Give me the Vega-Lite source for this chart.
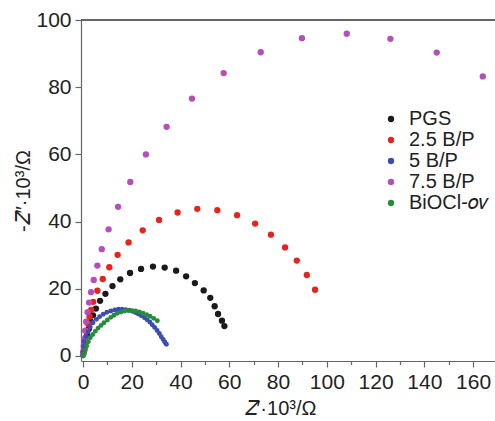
{
  "$schema": "https://vega.github.io/schema/vega-lite/v6.json",
  "autosize": {"type": "none"},
  "width": 414,
  "height": 341,
  "padding": {"left": 81, "top": 20, "right": 0, "bottom": 60},
  "background": "white",
  "config": {
    "view": {"stroke": null},
    "font": "Liberation Sans",
    "axis": {
      "domainColor": "#666666",
      "tickColor": "#666666",
      "labelColor": "#222222",
      "titleColor": "#222222",
      "labelFont": "Liberation Sans",
      "titleFont": "Liberation Sans",
      "labelFontSize": 21,
      "titleFontSize": 20,
      "titleFontWeight": "normal",
      "grid": false,
      "domainWidth": 1.2,
      "tickWidth": 1.2
    },
    "legend": {
      "labelFont": "Liberation Sans",
      "labelFontSize": 20,
      "labelColor": "#222222",
      "symbolType": "circle",
      "symbolSize": 40,
      "symbolStrokeWidth": 0,
      "rowPadding": 1,
      "labelOffset": 8,
      "padding": 0,
      "labelLimit": 200
    }
  },
  "data": {
    "values": [
      {"s": "PGS", "x": 0.2, "y": 1.0}, {"s": "PGS", "x": 0.6, "y": 2.5}, {"s": "PGS", "x": 1.1, "y": 4.2}, {"s": "PGS", "x": 1.7, "y": 6.1}, {"s": "PGS", "x": 2.4, "y": 8.1}, {"s": "PGS", "x": 3.2, "y": 10.2}, {"s": "PGS", "x": 4.1, "y": 12.1}, {"s": "PGS", "x": 5.3, "y": 14.1}, {"s": "PGS", "x": 7.0, "y": 16.4}, {"s": "PGS", "x": 9.2, "y": 18.5}, {"s": "PGS", "x": 12.1, "y": 20.8}, {"s": "PGS", "x": 15.3, "y": 22.8}, {"s": "PGS", "x": 19.3, "y": 24.7}, {"s": "PGS", "x": 23.8, "y": 25.9}, {"s": "PGS", "x": 28.7, "y": 26.6}, {"s": "PGS", "x": 33.5, "y": 26.3}, {"s": "PGS", "x": 38.2, "y": 25.4}, {"s": "PGS", "x": 42.3, "y": 23.7}, {"s": "PGS", "x": 45.9, "y": 21.7}, {"s": "PGS", "x": 49.5, "y": 19.5}, {"s": "PGS", "x": 52.2, "y": 17.3}, {"s": "PGS", "x": 54.0, "y": 14.8}, {"s": "PGS", "x": 55.4, "y": 12.5}, {"s": "PGS", "x": 57.0, "y": 10.5}, {"s": "PGS", "x": 58.0, "y": 8.9},
      {"s": "2.5 B/P", "x": 0.1, "y": 0.8}, {"s": "2.5 B/P", "x": 0.4, "y": 2.0}, {"s": "2.5 B/P", "x": 0.8, "y": 3.6}, {"s": "2.5 B/P", "x": 1.2, "y": 5.5}, {"s": "2.5 B/P", "x": 1.6, "y": 7.5}, {"s": "2.5 B/P", "x": 2.1, "y": 9.6}, {"s": "2.5 B/P", "x": 2.7, "y": 11.7}, {"s": "2.5 B/P", "x": 3.3, "y": 13.7}, {"s": "2.5 B/P", "x": 4.2, "y": 16.1}, {"s": "2.5 B/P", "x": 5.9, "y": 19.4}, {"s": "2.5 B/P", "x": 8.1, "y": 22.9}, {"s": "2.5 B/P", "x": 10.8, "y": 26.4}, {"s": "2.5 B/P", "x": 14.2, "y": 30.1}, {"s": "2.5 B/P", "x": 18.7, "y": 33.8}, {"s": "2.5 B/P", "x": 24.5, "y": 37.4}, {"s": "2.5 B/P", "x": 31.2, "y": 40.5}, {"s": "2.5 B/P", "x": 38.8, "y": 42.7}, {"s": "2.5 B/P", "x": 46.9, "y": 43.8}, {"s": "2.5 B/P", "x": 55.1, "y": 43.4}, {"s": "2.5 B/P", "x": 63.2, "y": 41.9}, {"s": "2.5 B/P", "x": 70.6, "y": 39.4}, {"s": "2.5 B/P", "x": 77.1, "y": 36.1}, {"s": "2.5 B/P", "x": 82.9, "y": 32.3}, {"s": "2.5 B/P", "x": 87.7, "y": 28.4}, {"s": "2.5 B/P", "x": 91.8, "y": 24.1}, {"s": "2.5 B/P", "x": 95.2, "y": 19.7},
      {"s": "7.5 B/P", "x": 0.0, "y": 0.3}, {"s": "7.5 B/P", "x": 0.1, "y": 1.2}, {"s": "7.5 B/P", "x": 0.3, "y": 3.0}, {"s": "7.5 B/P", "x": 0.6, "y": 5.0}, {"s": "7.5 B/P", "x": 0.9, "y": 7.5}, {"s": "7.5 B/P", "x": 1.3, "y": 10.2}, {"s": "7.5 B/P", "x": 1.9, "y": 13.0}, {"s": "7.5 B/P", "x": 2.5, "y": 15.9}, {"s": "7.5 B/P", "x": 3.3, "y": 19.0}, {"s": "7.5 B/P", "x": 4.4, "y": 22.6}, {"s": "7.5 B/P", "x": 5.9, "y": 26.9}, {"s": "7.5 B/P", "x": 7.7, "y": 31.8}, {"s": "7.5 B/P", "x": 10.5, "y": 37.7}, {"s": "7.5 B/P", "x": 14.4, "y": 44.4}, {"s": "7.5 B/P", "x": 19.4, "y": 51.8}, {"s": "7.5 B/P", "x": 25.8, "y": 60.0}, {"s": "7.5 B/P", "x": 34.3, "y": 68.2}, {"s": "7.5 B/P", "x": 44.7, "y": 76.6}, {"s": "7.5 B/P", "x": 57.7, "y": 84.2}, {"s": "7.5 B/P", "x": 72.9, "y": 90.4}, {"s": "7.5 B/P", "x": 89.8, "y": 94.6}, {"s": "7.5 B/P", "x": 108.2, "y": 95.9}, {"s": "7.5 B/P", "x": 126.1, "y": 94.4}, {"s": "7.5 B/P", "x": 145.1, "y": 90.3}, {"s": "7.5 B/P", "x": 164.0, "y": 83.2},
      {"s": "5 B/P", "x": 0.0, "y": 0.2}, {"s": "5 B/P", "x": 0.1, "y": 1.3}, {"s": "5 B/P", "x": 0.2, "y": 2.8}, {"s": "5 B/P", "x": 0.5, "y": 4.3}, {"s": "5 B/P", "x": 1.2, "y": 5.8}, {"s": "5 B/P", "x": 2.1, "y": 7.2}, {"s": "5 B/P", "x": 3.0, "y": 8.6}, {"s": "5 B/P", "x": 4.1, "y": 9.9}, {"s": "5 B/P", "x": 5.5, "y": 10.9}, {"s": "5 B/P", "x": 6.8, "y": 11.7}, {"s": "5 B/P", "x": 8.3, "y": 12.4}, {"s": "5 B/P", "x": 9.8, "y": 13.0}, {"s": "5 B/P", "x": 11.4, "y": 13.4}, {"s": "5 B/P", "x": 13.0, "y": 13.7}, {"s": "5 B/P", "x": 14.5, "y": 13.9}, {"s": "5 B/P", "x": 16.0, "y": 13.9}, {"s": "5 B/P", "x": 17.5, "y": 13.8}, {"s": "5 B/P", "x": 18.9, "y": 13.6}, {"s": "5 B/P", "x": 20.2, "y": 13.3}, {"s": "5 B/P", "x": 21.5, "y": 12.9}, {"s": "5 B/P", "x": 22.7, "y": 12.5}, {"s": "5 B/P", "x": 23.9, "y": 12.0}, {"s": "5 B/P", "x": 25.2, "y": 11.4}, {"s": "5 B/P", "x": 26.3, "y": 10.8}, {"s": "5 B/P", "x": 27.4, "y": 10.1}, {"s": "5 B/P", "x": 28.4, "y": 9.3}, {"s": "5 B/P", "x": 29.4, "y": 8.5}, {"s": "5 B/P", "x": 30.4, "y": 7.6}, {"s": "5 B/P", "x": 31.3, "y": 6.7}, {"s": "5 B/P", "x": 32.1, "y": 5.7}, {"s": "5 B/P", "x": 32.9, "y": 4.9}, {"s": "5 B/P", "x": 33.6, "y": 4.1}, {"s": "5 B/P", "x": 34.2, "y": 3.5},
      {"s": "BiOCl-𝑜𝑣", "x": 0.0, "y": 0.0}, {"s": "BiOCl-𝑜𝑣", "x": 0.4, "y": 0.5}, {"s": "BiOCl-𝑜𝑣", "x": 1.0, "y": 1.8}, {"s": "BiOCl-𝑜𝑣", "x": 1.5, "y": 3.0}, {"s": "BiOCl-𝑜𝑣", "x": 2.2, "y": 4.2}, {"s": "BiOCl-𝑜𝑣", "x": 3.0, "y": 5.4}, {"s": "BiOCl-𝑜𝑣", "x": 4.0, "y": 6.4}, {"s": "BiOCl-𝑜𝑣", "x": 5.1, "y": 7.4}, {"s": "BiOCl-𝑜𝑣", "x": 6.2, "y": 8.3}, {"s": "BiOCl-𝑜𝑣", "x": 7.4, "y": 9.1}, {"s": "BiOCl-𝑜𝑣", "x": 8.6, "y": 9.9}, {"s": "BiOCl-𝑜𝑣", "x": 10.0, "y": 10.7}, {"s": "BiOCl-𝑜𝑣", "x": 11.4, "y": 11.5}, {"s": "BiOCl-𝑜𝑣", "x": 12.7, "y": 12.1}, {"s": "BiOCl-𝑜𝑣", "x": 14.1, "y": 12.7}, {"s": "BiOCl-𝑜𝑣", "x": 15.6, "y": 13.1}, {"s": "BiOCl-𝑜𝑣", "x": 17.1, "y": 13.4}, {"s": "BiOCl-𝑜𝑣", "x": 18.6, "y": 13.5}, {"s": "BiOCl-𝑜𝑣", "x": 20.1, "y": 13.5}, {"s": "BiOCl-𝑜𝑣", "x": 21.6, "y": 13.4}, {"s": "BiOCl-𝑜𝑣", "x": 23.1, "y": 13.1}, {"s": "BiOCl-𝑜𝑣", "x": 24.6, "y": 12.7}, {"s": "BiOCl-𝑜𝑣", "x": 26.1, "y": 12.3}, {"s": "BiOCl-𝑜𝑣", "x": 27.5, "y": 11.8}, {"s": "BiOCl-𝑜𝑣", "x": 29.0, "y": 11.2}, {"s": "BiOCl-𝑜𝑣", "x": 30.5, "y": 10.5}
    ]
  },
  "layer": [
    {
      "mark": {"type": "rule", "color": "#666666", "strokeWidth": 1.2},
      "encoding": {"y": {"datum": 100, "scale": {"domain": [-1.5, 100]}}}
    },
    {
      "mark": {"type": "point", "filled": true, "opacity": 1, "strokeWidth": 0},
      "encoding": {
        "x": {
          "field": "x", "type": "quantitative",
          "scale": {"domain": [-0.82, 169], "nice": false, "zero": false},
          "axis": {
            "title": "𝑍′·10³/Ω",
            "titleX": 199,
            "values": [0, 10, 20, 30, 40, 50, 60, 70, 80, 90, 100, 110, 120, 130, 140, 150, 160],
            "labelExpr": "datum.value % 20 === 0 ? datum.label : ''",
            "tickSize": {"condition": {"test": "datum.value % 20 === 0", "value": 6}, "value": 3.5},
            "labelPadding": 4,
            "titlePadding": 6,
            "labelFlush": false,
            "labelOverlap": false
          }
        },
        "y": {
          "field": "y", "type": "quantitative",
          "scale": {"domain": [-1.5, 100], "nice": false, "zero": false},
          "axis": {
            "title": "-𝑍″·10³/Ω",
            "values": [0, 10, 20, 30, 40, 50, 60, 70, 80, 90, 100],
            "labelExpr": "datum.value % 20 === 0 ? datum.label : ''",
            "tickSize": {"condition": {"test": "datum.value % 20 === 0", "value": 6}, "value": 3.5},
            "labelPadding": 4,
            "titlePadding": 2,
            "labelFlush": false,
            "labelOverlap": false
          }
        },
        "color": {
          "field": "s", "type": "nominal",
          "scale": {
            "domain": ["PGS", "2.5 B/P", "5 B/P", "7.5 B/P", "BiOCl-𝑜𝑣"],
            "range": ["#1a1a1a", "#e8231c", "#3a4db3", "#b54eb8", "#268c3a"]
          },
          "legend": {"title": null, "orient": "none", "legendX": 300, "legendY": 89}
        },
        "size": {
          "condition": {"test": "datum.s === '5 B/P' || datum.s === 'BiOCl-𝑜𝑣'", "value": 24},
          "value": 40
        }
      }
    }
  ]
}
